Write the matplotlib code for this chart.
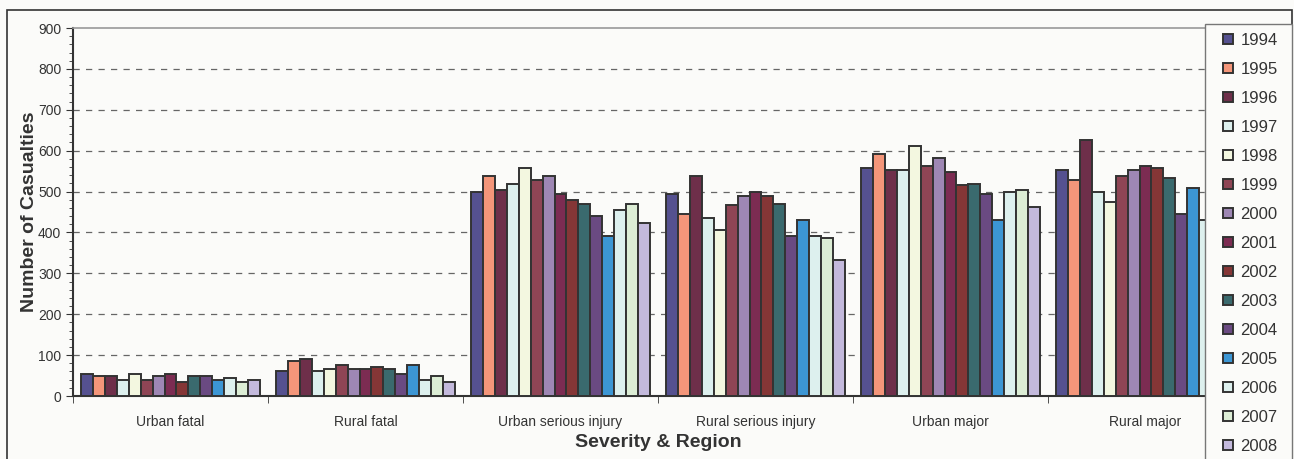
import numpy as np
import matplotlib
matplotlib.use("Agg")
import matplotlib.pyplot as plt
from matplotlib.patches import Rectangle

plt.rcParams['font.family'] = ['Liberation Sans', 'DejaVu Sans']

categories = ["Urban fatal", "Rural fatal", "Urban serious injury",
              "Rural serious injury", "Urban major", "Rural major"]
years = [str(y) for y in range(1994, 2009)]

# one list per year, values in category order
v1994 = [55, 60, 500, 493, 558, 553]
v1995 = [50, 85, 538, 445, 592, 529]
v1996 = [50, 90, 505, 538, 553, 627]
v1997 = [40, 60, 519, 435, 553, 499]
v1998 = [55, 65, 558, 406, 611, 474]
v1999 = [40, 75, 529, 466, 562, 539]
v2000 = [50, 65, 538, 489, 582, 553]
v2001 = [55, 65, 493, 500, 549, 562]
v2002 = [35, 70, 480, 489, 515, 558]
v2003 = [50, 65, 470, 470, 519, 533]
v2004 = [50, 55, 440, 391, 494, 445]
v2005 = [40, 75, 391, 431, 431, 509]
v2006 = [45, 40, 455, 391, 499, 431]
v2007 = [35, 50, 470, 386, 505, 480]
v2008 = [40, 35, 422, 332, 462, 450]
series = [v1994, v1995, v1996, v1997, v1998, v1999, v2000, v2001,
          v2002, v2003, v2004, v2005, v2006, v2007, v2008]

colors = ["#555190", "#F4967A", "#6E2F4A", "#DDF0EE", "#F3F7E0",
          "#8F4555", "#9E87B4", "#7C2C52", "#853636", "#3A6A6E",
          "#6A4A82", "#3C96D4", "#DDF0EE", "#DCEDD5", "#C3B9DC"]

W, H = 1294, 459
bg = "#FBFBF9"
fig = plt.figure(figsize=(W / 100, H / 100), dpi=100, facecolor=bg)
ax = fig.add_axes([73 / W, 1 - 396 / H, (1243 - 73) / W, (396 - 28) / H])
ax.set_facecolor(bg)

n = len(series)
group = 0.913
w = group / n
x = np.arange(len(categories))
for i, (vals, c, yr) in enumerate(zip(series, colors, years)):
    ax.bar(x - group / 2 + w * (i + 0.5), vals, width=w, color=c,
           edgecolor="#333333", linewidth=1.4, label=yr, zorder=3)

ax.set_xlim(-0.5, len(categories) - 0.5)
ax.set_ylim(0, 900)
ax.set_yticks(np.arange(0, 901, 100))
ax.set_yticks(np.arange(0, 901, 20), minor=True)
ax.tick_params(axis='y', which='major', direction='out', length=5, labelsize=10,
               labelcolor="#333333", color="#333333")
ax.tick_params(axis='y', which='minor', direction='out', length=3, color="#333333")
ax.set_xticks(x)
ax.set_xticklabels(categories, fontsize=10, color="#333333")
ax.set_xticks(np.arange(-0.5, len(categories), 1), minor=True)
ax.tick_params(axis='x', which='major', length=0, pad=14)
ax.tick_params(axis='x', which='minor', direction='out', length=5, color="#333333")

for yv in range(100, 900, 100):
    ax.axhline(yv, color="#666666", linewidth=0.9, linestyle=(0, (5, 5)), zorder=1)

for s in ["left", "bottom"]:
    ax.spines[s].set_color("#333333")
    ax.spines[s].set_linewidth(1.5)
for s in ["top", "right"]:
    ax.spines[s].set_color("#999999")
    ax.spines[s].set_linewidth(1.2)

ax.set_ylabel("Number of Casualties", fontsize=14, fontweight="bold", color="#333333",
              labelpad=0)
ax.set_xlabel("Severity & Region", fontsize=14, fontweight="bold", color="#333333",
              labelpad=3)

# outer chart border
fig.patches.append(Rectangle((7 / W, -0.1), (1292 - 7) / W, 1.1 - 10 / H,
                             transform=fig.transFigure, fill=False,
                             edgecolor="#333333", linewidth=1.2, zorder=1))

# legend box (drawn over the right end of the plot)
fig.patches.append(Rectangle((1205 / W, -0.1), (1292 - 1205) / W, 1.1 - 24 / H,
                             transform=fig.transFigure, facecolor=bg,
                             edgecolor="#777777", linewidth=1.0, zorder=5))

leg = fig.legend(loc="upper left", bbox_to_anchor=(1223 / W, 1 - 33 / H),
                 fontsize=12, frameon=False, handlelength=0.6,
                 handleheight=0.6, handletextpad=0.45, labelspacing=0.84,
                 borderpad=0, borderaxespad=0)
leg.set_zorder(6)
for t in leg.get_texts():
    t.set_color("#333333")

fig.savefig("out.png", dpi=100, facecolor=bg)
